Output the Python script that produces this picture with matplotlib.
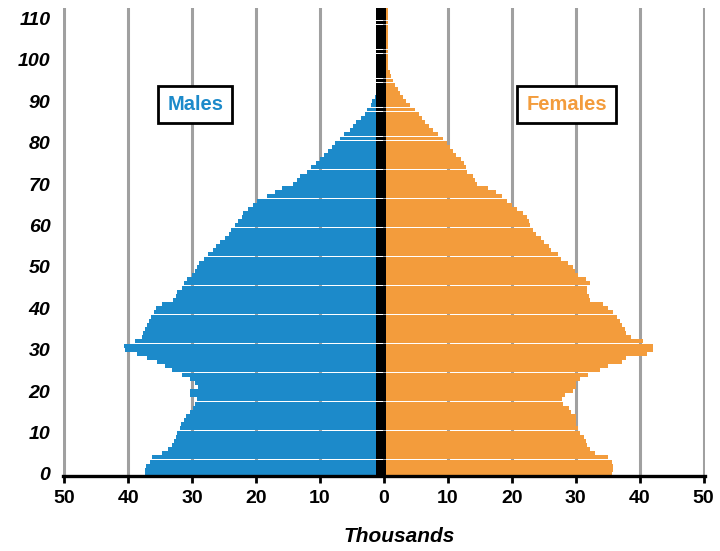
import numpy as np
import matplotlib
matplotlib.use("Agg")
import matplotlib.pyplot as plt

plt.rcParams['font.family'] = ['Liberation Sans', 'DejaVu Sans']

# single years of age, 0 .. 112
ages = np.arange(0, 113)

# population in thousands
males = [37.3, 37.3, 37.2, 36.6, 36.3, 34.7, 33.7, 33.2, 32.8, 32.6,
         32.4, 31.9, 31.7, 31.3, 30.9, 30.3, 29.8, 29.5, 29.3, 30.3,
         30.3, 29.1, 29.5, 30.3, 31.6, 33.2, 34.2, 35.5, 37.1, 38.6,
         40.5, 40.7, 38.9, 37.9, 37.7, 37.3, 37.1, 36.8, 36.4, 36.0,
         35.6, 34.7, 33.0, 32.6, 32.3, 31.6, 31.2, 30.8, 30.0, 29.5,
         29.3, 29.0, 28.2, 27.5, 26.7, 26.3, 25.6, 24.8, 24.3, 24.0,
         23.3, 22.8, 22.2, 22.0, 21.2, 20.5, 19.8, 18.3, 17.0, 16.0,
         14.2, 13.6, 13.2, 12.1, 11.4, 10.7, 10.0, 9.4, 8.7, 8.2,
         7.6, 6.9, 6.2, 5.3, 4.8, 4.3, 3.6, 3.0, 2.6, 2.1,
         1.8, 1.4, 1.1, 0.8, 0.6, 0.5, 0.4, 0.3, 0.2, 0.15,
         0.1, 0.08, 0.06, 0.05, 0.04, 0.03, 0.02, 0.02, 0.01, 0.01,
         0.01, 0.01, 0.01]

females = [35.7, 35.8, 35.8, 35.6, 35.0, 33.0, 32.2, 31.7, 31.6, 31.3,
           30.6, 30.3, 30.1, 30.1, 30.1, 29.3, 28.9, 28.0, 27.8, 28.3,
           29.5, 30.1, 30.1, 30.6, 31.9, 33.8, 35.1, 37.2, 37.9, 41.1,
           42.1, 42.1, 40.5, 38.7, 37.9, 37.7, 37.2, 37.0, 36.4, 35.8,
           35.1, 34.3, 32.2, 32.0, 31.8, 31.8, 32.2, 31.6, 30.4, 29.9,
           29.5, 28.8, 27.7, 27.3, 26.2, 25.8, 25.0, 24.5, 23.8, 23.3,
           22.9, 22.7, 22.3, 21.7, 20.8, 20.0, 19.3, 18.5, 17.5, 16.2,
           14.6, 14.3, 14.0, 13.0, 12.8, 12.5, 12.0, 11.3, 10.8, 10.3,
           9.8, 9.3, 8.5, 7.7, 7.0, 6.5, 5.9, 5.5, 4.9, 4.1,
           3.5, 3.0, 2.5, 2.2, 1.8, 1.4, 1.1, 0.9, 0.7, 0.65,
           0.6, 0.6, 0.6, 0.6, 0.6, 0.6, 0.6, 0.6, 0.6, 0.6,
           0.6, 0.6, 0.6]

x_ticks = [-50, -40, -30, -20, -10, 0, 10, 20, 30, 40, 50]
y_ticks = [0, 10, 20, 30, 40, 50, 60, 70, 80, 90, 100, 110]

BLUE = "#1c8aca"
ORANGE = "#f39c3c"
GRID = "#a0a0a0"

fig = plt.figure(figsize=(7.2, 5.51), dpi=100)
ax = fig.add_axes([0.0875, 0.136, 0.8915, 0.8495])

# slight gap between bars -> thin white lines every few years, like the original
bar_h = 0.95
ax.barh(ages, -np.array(males), height=bar_h, color=BLUE, linewidth=0,
        antialiased=False, zorder=2)
ax.barh(ages, females, height=bar_h, color=ORANGE, linewidth=0,
        antialiased=False, zorder=2)
# thick black centre strip
ax.barh(ages, 1.6, left=-1.2, height=bar_h, color="black", linewidth=0,
        antialiased=False, zorder=3)

for xv in x_ticks:
    ax.axvline(xv, color=GRID, lw=2.2, zorder=0)

ax.set_xlim(-50.2, 50.2)
ax.set_ylim(-0.5, 112.5)

ax.set_xticks(x_ticks)
ax.set_xticklabels([str(abs(v)) for v in x_ticks], fontsize=14, fontweight="bold")
ax.set_yticks(y_ticks)
ax.set_yticklabels([str(v) for v in y_ticks], fontsize=14, fontweight="bold",
                   fontstyle="italic")
ax.tick_params(axis="y", length=0, pad=9)
ax.tick_params(axis="x", length=5, width=2, color="black", pad=5)

for side in ["top", "right", "left"]:
    ax.spines[side].set_visible(False)
ax.spines["bottom"].set_linewidth(2.4)
ax.spines["bottom"].set_zorder(5)

box = dict(boxstyle="square,pad=0.45", facecolor="white", edgecolor="black", linewidth=2)
ax.text(-29.5, 89.2, "Males", color=BLUE, fontsize=14.5, fontweight="bold",
        ha="center", va="center", bbox=box, zorder=6)
ax.text(28.6, 89.1, "Females", color=ORANGE, fontsize=14.5, fontweight="bold",
        ha="center", va="center", bbox=box, zorder=6)

fig.text(399 / 720, 1 - 537 / 551, "Thousands", fontsize=15, fontweight="bold",
         fontstyle="italic", ha="center", va="center")

fig.savefig("out.png", dpi=100)
plt.close(fig)
